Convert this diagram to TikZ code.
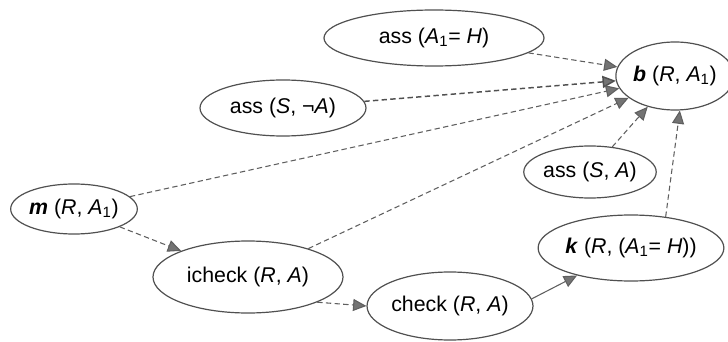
\documentclass[tikz,border=0pt]{standalone}
\usepackage{fontspec}
\setmainfont{Liberation Sans}
\usetikzlibrary{shapes.geometric}
\usetikzlibrary{arrows.meta}

\definecolor{rimGray}{RGB}{80,80,80}
\definecolor{lineGray}{RGB}{95,95,95}
\definecolor{tipGray}{RGB}{115,115,115}

\tikzset{
  goal/.style={ellipse, draw=rimGray, line width=0.9pt, inner sep=0pt, font=\fontsize{16}{19}\selectfont},
  dep/.style={draw=lineGray, line width=0.8pt, dash pattern=on 4pt off 2.5pt, -{Triangle[length=10pt,width=9pt,fill=tipGray]}},
  flow/.style={draw=lineGray, line width=0.8pt, -{Triangle[length=10pt,width=9pt,fill=tipGray]}},
}

\begin{document}
\begin{tikzpicture}[x=0.75pt,y=0.75pt,yscale=-1,xscale=1]
\useasboundingbox (0,0) rectangle (728,342);

%Ellipses
\node[goal, minimum width=165pt, minimum height=42pt] (assH) at (434,38) {ass (\textit{A}\textsubscript{1}= \textit{H})};
\node[goal, minimum width=78pt, minimum height=51pt] (bel) at (675,76) {\textbf{\textit{b}} (\textit{R}, \textit{A}\textsubscript{1})};
\node[goal, minimum width=124.5pt, minimum height=42pt] (assNotA) at (283,108) {ass (\textit{S}, ¬\textit{A})};
\node[goal, minimum width=93pt, minimum height=39pt] (assA) at (590,172) {ass (\textit{S}, \textit{A})};
\node[goal, minimum width=93pt, minimum height=37.5pt] (mot) at (74,209) {\textbf{\textit{m}} (\textit{R}, \textit{A}\textsubscript{1})};
\node[goal, minimum width=142.5pt, minimum height=54pt] (icheck) at (248,277) {icheck (\textit{R}, \textit{A})};
\node[goal, minimum width=121.5pt, minimum height=51pt] (check) at (450,306) {check (\textit{R}, \textit{A})};
\node[goal, minimum width=127.5pt, minimum height=49.5pt] (know) at (631,248) {\textbf{\textit{k}} (\textit{R}, (\textit{A}\textsubscript{1}= \textit{H}))};

%Connectors into b
\draw[dep] (assH) -- (bel);
\draw[dep, line width=1.1pt, draw=rimGray] (assNotA) -- (bel);
\draw[dep] (mot) -- (bel);
\draw[dep] (icheck) -- (bel);
\draw[dep] (assA) -- (bel);
\draw[dep] (know.42) -- (bel.-82);

%Lower chain
\draw[dep] (mot) -- (icheck);
\draw[dep] (icheck.-20) -- (check.180);
\draw[flow] (check.5) -- (know.-153);

\end{tikzpicture}
\end{document}
